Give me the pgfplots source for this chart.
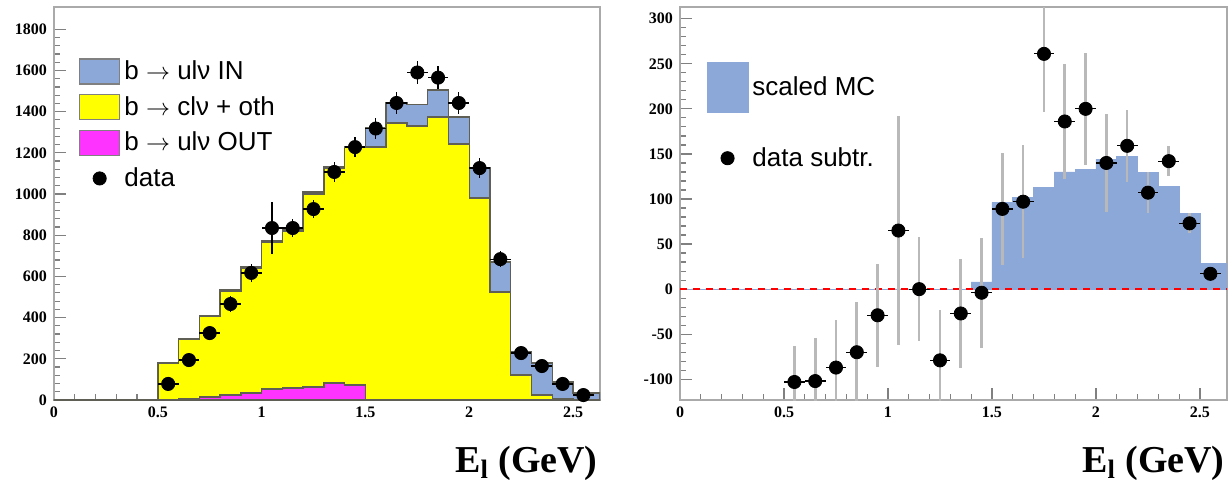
\documentclass[border=0pt]{standalone}
\usepackage{fontspec}
\setmainfont{Liberation Serif}
\newfontfamily\legfont{Liberation Sans}
\usepackage{pgfplots}
\usepackage{pgfplotstable}
\pgfplotsset{compat=1.18}

\definecolor{mcblue}{RGB}{140,168,216}
\definecolor{yel}{RGB}{255,255,0}
\definecolor{mag}{RGB}{255,51,255}
\definecolor{histline}{RGB}{95,95,85}
\definecolor{frame}{RGB}{170,170,170}

% left panel: data points (bin centre, value, error)
\pgfplotstableread{
x    y     ey
0.55 78    25
0.65 194   30
0.75 325   35
0.85 466   38
0.95 617   42
1.05 835   124
1.15 835   45
1.25 927   45
1.35 1107  48
1.45 1228  50
1.55 1318  52
1.65 1442  52
1.75 1590  55
1.85 1565  55
1.95 1442  52
2.05 1126  48
2.15 684   40
2.25 228   30
2.35 165   30
2.45 78    25
2.55 24    20
}\leftdata

% right panel: data after subtraction
\pgfplotstableread{
x    y     ey
0.55 -103  40
0.65 -102  48
0.75 -87   53
0.85 -70   56
0.95 -29   57
1.05 65    127
1.15 0     58
1.25 -79   56
1.35 -27   60
1.45 -4    61
1.55 89    62
1.65 97    63
1.75 261   65
1.85 186   64
1.95 200   62
2.05 140   54
2.15 159   40
2.25 107   23
2.35 142   17
2.45 73    11
2.55 17    6
}\rightdata

\pgfplotsset{
  rootstyle/.style={
    scale only axis,
    xmin=0, xmax=2.63,
    axis line style={frame, line width=1pt},
    tick align=inside,
    xtick pos=bottom, ytick pos=left,
    major tick length=6pt, minor tick length=3pt,
    every tick/.style={gray, line width=0.6pt},
    minor x tick num=4, minor y tick num=4,
    xtick={0,0.5,1,1.5,2,2.5},
    /pgf/number format/assume math mode=true,
    /pgf/number format/1000 sep={},
    tick label style={font=\bfseries\fontsize{8}{9}\selectfont},
    xlabel={\bfseries E\textsubscript{l} (GeV)},
    x label style={at={(axis description cs:1,0)}, anchor=base east,
      yshift=-36pt, xshift=-1pt, inner sep=0pt,
      font=\fontsize{19}{22}\selectfont},
    legend cell align=left,
  },
}

\begin{document}
\begin{tikzpicture}
\path[use as bounding box] (-27pt,-41.5pt) rectangle (588pt,200pt);

\begin{axis}[rootstyle,
  width=273pt, height=196.5pt,
  ymin=0, ymax=1908,
  ytick={0,200,...,1800},
  legend style={draw=none, fill=none, at={(0.034,0.885)}, anchor=north west,
    font=\legfont\fontsize{13}{15}\selectfont, row sep=2.9pt,
    nodes={inner sep=2pt}},
]
\addplot[const plot, fill=mcblue, draw=histline, line width=0.7pt,
  legend image code/.code={\draw[fill=mcblue,draw=gray] (0pt,-6.25pt) rectangle (20pt,6.25pt);}]
  coordinates {(0,0) (0.5,180) (0.6,300) (0.7,408) (0.8,534) (0.9,646) (1.0,772)
  (1.1,830) (1.2,1010) (1.3,1131) (1.4,1230) (1.5,1320) (1.6,1442) (1.7,1435)
  (1.8,1505) (1.9,1374) (2.0,1126) (2.1,670) (2.2,233) (2.3,180) (2.4,87)
  (2.5,34) (2.63,34)} \closedcycle;
\addlegendentry{b $\rightarrow$ ulν IN}
\addplot[const plot, fill=yel, draw=histline, line width=0.7pt,
  legend image code/.code={\draw[fill=yel,draw=gray] (0pt,-6.25pt) rectangle (20pt,6.25pt);}]
  coordinates {(0,0) (0.5,178) (0.6,297) (0.7,405) (0.8,530) (0.9,640) (1.0,765)
  (1.1,820) (1.2,1000) (1.3,1125) (1.4,1225) (1.5,1228) (1.6,1345) (1.7,1330)
  (1.8,1374) (1.9,1243) (2.0,980) (2.1,524) (2.2,121) (2.3,24) (2.4,5)
  (2.5,0) (2.63,0)} \closedcycle;
\addlegendentry{b $\rightarrow$ clν + oth}
\addplot[const plot, fill=mag, draw=histline, line width=0.7pt,
  legend image code/.code={\draw[fill=mag,draw=gray] (0pt,-6.25pt) rectangle (20pt,6.25pt);}]
  coordinates {(0,0) (0.5,0) (0.6,5) (0.7,15) (0.8,24) (0.9,34) (1.0,53)
  (1.1,58) (1.2,63) (1.3,83) (1.4,73) (1.5,2) (1.6,2) (1.7,2) (1.8,2)
  (1.9,2) (2.0,2) (2.1,0) (2.63,0)} \closedcycle;
\addlegendentry{b $\rightarrow$ ulν OUT}
\addplot[only marks, mark=*, mark size=3.3pt, black,
  legend image code/.code={\fill[black] (10pt,0pt) circle (3.3pt);},
  error bars/.cd, y dir=both, y explicit, x dir=both, x fixed=0.05,
  error mark=none, error bar style={black, line width=0.6pt}]
  table[x=x, y=y, y error=ey] {\leftdata};
\addlegendentry{data}
\end{axis}

\begin{axis}[rootstyle,
  at={(313pt,0pt)}, anchor=south west,
  width=273.5pt, height=196.5pt,
  ymin=-123, ymax=313,
  ytick={-100,-50,...,300},
  legend style={draw=none, fill=none, at={(0.037,0.87)}, anchor=north west,
    font=\legfont\fontsize{13}{15}\selectfont, row sep=15pt,
    nodes={inner sep=2pt}},
]
\addplot[const plot, fill=mcblue, draw=mcblue, line width=0.4pt,
  legend image code/.code={\fill[mcblue] (0pt,-12.5pt) rectangle (20.5pt,12.5pt);}]
  coordinates {(0,0) (1.4,8) (1.5,96) (1.6,102) (1.7,113) (1.8,130) (1.9,133)
  (2.0,144) (2.1,147) (2.2,129) (2.3,114) (2.4,84) (2.5,28) (2.63,28)} \closedcycle;
\addlegendentry{scaled MC}
\addplot[red, line width=1.3pt, dash pattern=on 3.5pt off 3pt, forget plot]
  coordinates {(0,0) (2.63,0)};
\addplot[draw=none, mark=none, forget plot,
  error bars/.cd, y dir=both, y explicit,
  error mark=none, error bar style={gray!55, line width=1.3pt}]
  table[x=x, y=y, y error=ey] {\rightdata};
\addplot[only marks, mark=*, mark size=3.3pt, black,
  legend image code/.code={\fill[black] (10.25pt,0pt) circle (3.3pt);},
  error bars/.cd, x dir=both, x fixed=0.05,
  error mark=none, error bar style={black, line width=0.6pt}]
  table[x=x, y=y] {\rightdata};
\addlegendentry{data subtr.}
\end{axis}
\end{tikzpicture}
\end{document}
